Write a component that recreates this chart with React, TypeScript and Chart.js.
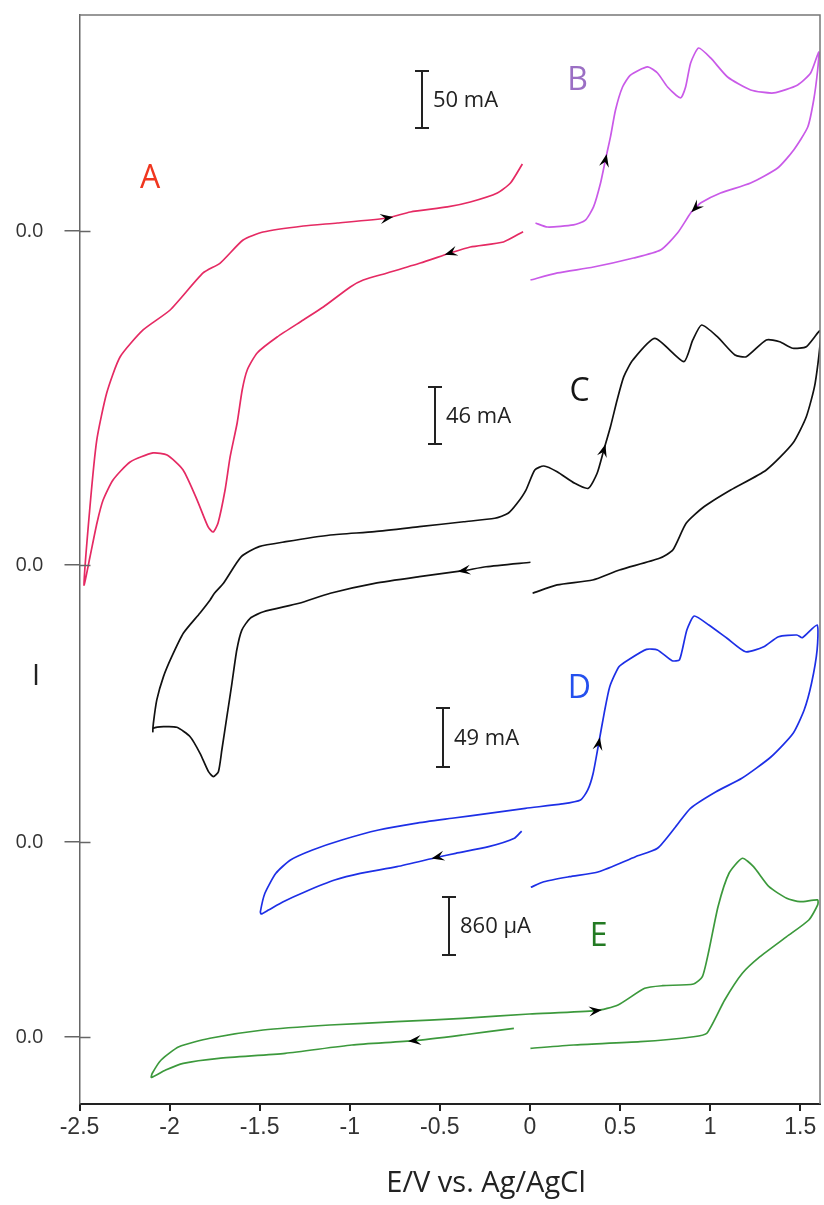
import React, { useEffect, useRef } from "react";
import { Chart, registerables } from "chart.js";

Chart.register(...registerables);

// ---------- data (E in V vs Ag/AgCl, current in mA, E-trace in µA) ----------
const A_E = [-0.038, -0.147, -0.331, -0.442, -0.608, -0.792, -0.925, -0.997, -1.147, -1.258, -1.403, -1.514, -1.569, -1.597, -1.625, -1.664, -1.692, -1.731, -1.758, -1.786, -1.847, -1.925, -2.014, -2.092, -2.219, -2.314, -2.369, -2.403, -2.442, -2.475,
  -2.442, -2.404, -2.349, -2.275, -2.147, -1.997, -1.814, -1.719, -1.592, -1.481, -1.258, -1.069, -0.792, -0.664, -0.458, -0.331, -0.181, -0.108, -0.042];
const A_I = [-0.6, -9.6, -14.0, -19.3, -28.1, -36.8, -43.0, -49.1, -66.7, -78.1, -93.0, -107.0, -121.9, -139.5, -168.4, -198.2, -227.2, -256.1, -264.0, -259.6, -236.0, -209.6, -196.5, -194.7, -202.6, -218.4, -236.0, -256.1, -286.0, -310.5,
  -242.1, -183.3, -142.1, -110.5, -86.8, -69.3, -36.8, -28.1, -7.9, -0.9, 4.4, 7.0, 11.4, 16.7, 21.1, 25.4, 33.3, 42.1, 58.8];

const B_E = [0.031, 0.097, 0.242, 0.308, 0.353, 0.392, 0.419, 0.447, 0.475, 0.514, 0.558, 0.653, 0.708, 0.764, 0.836, 0.864, 0.892, 0.936, 1.003, 1.097, 1.225, 1.353, 1.486, 1.558, 1.603,
  1.597, 1.575, 1.542, 1.464, 1.375, 1.225, 1.058, 0.947, 0.919, 0.892, 0.819, 0.725, 0.575, 0.353, 0.153, 0.003];
const B_I = [7.0, 3.5, 5.3, 9.6, 21.1, 42.1, 62.3, 82.5, 106.1, 126.3, 136.8, 143.9, 138.6, 126.3, 116.7, 126.3, 147.4, 160.5, 151.8, 135.1, 123.7, 121.1, 128.1, 138.6, 157.0,
  141.2, 114.9, 91.2, 71.1, 55.3, 42.1, 33.3, 24.6, 20.2, 15.8, -1.8, -16.7, -23.7, -31.6, -36.8, -43.0];

const C_E = [0.003, -0.244, -0.369, -0.614, -0.862, -1.108, -1.281, -1.479, -1.553, -1.599, -1.627, -1.654, -1.682, -1.710, -1.729, -1.757, -1.784, -1.831, -1.886, -1.960, -2.034, -2.090, -2.093,
  -2.090, -2.071, -2.034, -1.988, -1.923, -1.831, -1.775, -1.751, -1.701, -1.602, -1.503, -1.355, -1.108, -0.862, -0.614, -0.368, -0.195, -0.121, -0.071, -0.022, 0.027, 0.077, 0.151, 0.249, 0.324, 0.373, 0.410, 0.447, 0.484, 0.521, 0.571, 0.694, 0.854, 0.904, 0.953, 1.040, 1.138, 1.201, 1.312, 1.386, 1.459, 1.534, 1.613,
  1.583, 1.534, 1.459, 1.312, 1.114, 0.966, 0.867, 0.793, 0.719, 0.497, 0.348, 0.151, 0.015];
const C_I = [2.2, -1.4, -4.6, -9.4, -14.8, -22.8, -30.9, -37.7, -43.0, -52.5, -68.6, -95.5, -122.4, -149.3, -166.8, -170.8, -166.8, -152.0, -138.6, -131.0, -130.5, -131.8, -134.5,
  -127.8, -108.9, -90.1, -74.0, -54.9, -38.7, -28.2, -22.8, -14.8, 6.7, 14.8, 18.8, 24.2, 26.9, 30.9, 34.9, 37.7, 41.7, 49.8, 60.5, 76.7, 79.9, 75.3, 65.9, 61.9, 74.0, 92.8, 111.6, 133.2, 152.0, 165.4, 182.9, 164.1, 181.6, 193.7, 184.3, 169.5, 168.1, 181.6, 180.2, 174.9, 176.2, 189.1,
  146.6, 119.7, 98.2, 76.7, 60.5, 47.0, 33.7, 12.1, 5.4, -4.0, -12.1, -16.1, -22.8];

const D_E = [-0.046, -0.086, -0.229, -0.412, -0.514, -0.738, -0.942, -1.084, -1.247, -1.369, -1.451, -1.492,
  -1.496, -1.471, -1.410, -1.329, -1.207, -1.044, -0.840, -0.636, -0.433, -0.229, -0.025, 0.178, 0.281, 0.321, 0.351, 0.382, 0.412, 0.443, 0.494, 0.545, 0.647, 0.708, 0.789, 0.830, 0.871, 0.912, 0.993, 1.094, 1.197, 1.298, 1.380, 1.482, 1.512, 1.594,
  1.594, 1.563, 1.522, 1.461, 1.339, 1.176, 1.033, 0.891, 0.809, 0.708, 0.586, 0.382, 0.219, 0.077, 0.005];
const D_I = [9.1, 3.1, -3.9, -9.4, -12.7, -20.5, -26.0, -31.6, -41.3, -49.6, -56.5, -59.8,
  -57.9, -42.6, -26.0, -14.9, -6.6, 1.7, 10.0, 15.5, 19.7, 23.8, 28.0, 31.6, 34.9, 43.2, 57.1, 82.0, 106.9, 129.0, 145.6, 151.2, 160.0, 159.5, 150.6, 151.2, 176.1, 187.7, 180.2, 169.2, 158.0, 162.2, 170.5, 171.9, 169.7, 180.2,
  159.5, 131.8, 109.6, 90.3, 70.8, 52.9, 41.8, 28.0, 12.7, -5.2, -12.2, -24.7, -28.8, -33.0, -37.6];

const E_E = [-0.089, -0.373, -0.643, -0.988, -1.358, -1.727, -1.924, -2.022, -2.101,
  -2.096, -2.047, -1.948, -1.776, -1.481, -1.111, -0.742, -0.373, -0.003, 0.366, 0.489, 0.637, 0.736, 0.908, 0.957, 0.994, 1.044, 1.105, 1.179, 1.241, 1.327, 1.425, 1.499, 1.597,
  1.597, 1.548, 1.425, 1.277, 1.179, 1.081, 0.982, 0.908, 0.612, 0.243, 0.003];
const E_I = [129, 30, -55, -119, -242, -316, -390, -489, -598,
  -538, -341, -144, -19, 104, 178, 227, 277, 341, 390, 475, 722, 761, 786, 894, 1290, 1932, 2428, 2650, 2526, 2229, 2057, 2006, 2032,
  1958, 1735, 1488, 1191, 945, 549, 55, 4, -70, -119, -168];

// scan-direction arrows (index of the point carrying the arrow)
const A_ARROWS = [3, 42];
const B_ARROWS = [6, 33];
const C_ARROWS = [2, 49];
const D_ARROWS = [4, 27];
const E_ARROWS = [2, 18];

// x axis ticks
const X_TICKS = [-2.5, -2, -1.5, -1, -0.5, 0, 0.5, 1, 1.5];

// stacking: zero-current offset of each trace (display units) and scale bars
const ZERO_AB = 873;
const ZERO_C = 539;
const ZERO_D = 262;
const ZERO_E = 67;
const ZERO_LINES = [ZERO_AB, ZERO_C, ZERO_D, ZERO_E];

const BAR_VALUES = [50, 46, 49, 860];
const BAR_LABELS = ["50 mA", "46 mA", "49 mA", "860 \u03bcA"];
const BAR_SPANS = [57, 57, 59, 58];
const BAR_E = [-0.599, -0.525, -0.481, -0.447];
const BAR_LOW = [976, 660, 337, 149];

const TRACE_NAMES = ["A", "B", "C", "D", "E"];
const NAME_E = [-2.108, 0.264, 0.275, 0.275, 0.382];
const NAME_Y = [925, 1023, 712, 415, 167];
const NAME_COLORS = ["#f0361f", "#9b6fc4", "#151515", "#2450ee", "#237a23"];

const SANS = '"Open Sans", "Noto Sans", sans-serif';

function drawArrow(ctx: CanvasRenderingContext2D, x: number, y: number, dx: number, dy: number) {
  const len = Math.hypot(dx, dy) || 1;
  const ux = dx / len, uy = dy / len;
  const px = -uy, py = ux;
  const L = 13, W = 5, N = 8;
  const tx = x + ux * 6, ty = y + uy * 6;
  ctx.beginPath();
  ctx.moveTo(tx, ty);
  ctx.lineTo(tx - ux * L + px * W, ty - uy * L + py * W);
  ctx.lineTo(tx - ux * N, ty - uy * N);
  ctx.lineTo(tx - ux * L - px * W, ty - uy * L - py * W);
  ctx.closePath();
  ctx.fill();
}

export default function App() {
  const ref = useRef<HTMLCanvasElement>(null);

  useEffect(() => {
    document.body.style.margin = "0";
    const traces = [
      { E: A_E, I: A_I, zero: ZERO_AB, bar: 0, color: "#e52a63", arrows: A_ARROWS },
      { E: B_E, I: B_I, zero: ZERO_AB, bar: 0, color: "#c95ae8", arrows: B_ARROWS },
      { E: C_E, I: C_I, zero: ZERO_C, bar: 1, color: "#111111", arrows: C_ARROWS },
      { E: D_E, I: D_I, zero: ZERO_D, bar: 2, color: "#1d2fe6", arrows: D_ARROWS },
      { E: E_E, I: E_I, zero: ZERO_E, bar: 3, color: "#3c993c", arrows: E_ARROWS },
    ];

    const overlay = {
      id: "overlay",
      afterDatasetsDraw(chart: any) {
        const { ctx, chartArea, scales } = chart;
        const xs = scales.x, ys = scales.y;
        ctx.save();
        // frame top/right
        ctx.strokeStyle = "#777";
        ctx.lineWidth = 1.5;
        ctx.beginPath();
        ctx.moveTo(chartArea.left, chartArea.top);
        ctx.lineTo(chartArea.right, chartArea.top);
        ctx.lineTo(chartArea.right, chartArea.bottom);
        ctx.stroke();
        // inner part of y tick marks
        ctx.strokeStyle = "#666";
        ZERO_LINES.forEach((v) => {
          const py = Math.round(ys.getPixelForValue(v)) + 0.5;
          ctx.beginPath();
          ctx.moveTo(chartArea.left, py);
          ctx.lineTo(chartArea.left + 11, py);
          ctx.stroke();
        });
        // arrows
        ctx.fillStyle = "#000";
        chart.data.datasets.forEach((ds: any, di: number) => {
          const tr = traces[di];
          tr.arrows.forEach((i: number) => {
            const p = ds.data[i], a = ds.data[i - 1], b = ds.data[i + 1];
            const x = xs.getPixelForValue(p.x), y = ys.getPixelForValue(p.y);
            const dx = xs.getPixelForValue(b.x) - xs.getPixelForValue(a.x);
            const dy = ys.getPixelForValue(b.y) - ys.getPixelForValue(a.y);
            drawArrow(ctx, x, y, dx, dy);
          });
        });
        // scale bars
        ctx.strokeStyle = "#222";
        ctx.fillStyle = "#222";
        ctx.lineWidth = 2;
        ctx.font = `22px ${SANS}`;
        ctx.textAlign = "left";
        ctx.textBaseline = "middle";
        BAR_E.forEach((e, k) => {
          const x = Math.round(xs.getPixelForValue(e));
          const y0 = ys.getPixelForValue(BAR_LOW[k]);
          const y1 = ys.getPixelForValue(BAR_LOW[k] + BAR_SPANS[k]);
          ctx.beginPath();
          ctx.moveTo(x, y0); ctx.lineTo(x, y1);
          ctx.moveTo(x - 7, y0); ctx.lineTo(x + 7, y0);
          ctx.moveTo(x - 7, y1); ctx.lineTo(x + 7, y1);
          ctx.stroke();
          ctx.fillText(BAR_LABELS[k], x + 11, (y0 + y1) / 2 + 1);
        });
        // trace names
        ctx.font = `32px ${SANS}`;
        ctx.textAlign = "center";
        TRACE_NAMES.forEach((n, k) => {
          ctx.fillStyle = NAME_COLORS[k];
          ctx.fillText(n, xs.getPixelForValue(NAME_E[k]), ys.getPixelForValue(NAME_Y[k]));
        });
        // axis titles
        ctx.fillStyle = "#222";
        ctx.font = `29px ${SANS}`;
        ctx.textBaseline = "alphabetic";
        ctx.textAlign = "center";
        ctx.fillText("E/V vs. Ag/AgCl", 486, 1192);
        ctx.fillText("I", 36, 685);
        ctx.restore();
      },
    };

    const chart = new Chart(ref.current as HTMLCanvasElement, {
      type: "scatter",
      data: {
        datasets: traces.map((t) => ({
          data: t.E.map((e, i) => ({ x: e, y: t.zero + (t.I[i] / BAR_VALUES[t.bar]) * BAR_SPANS[t.bar] })),
          showLine: true,
          borderColor: t.color,
          borderWidth: 1.7,
          pointRadius: 0,
          tension: 0.2,
          fill: false,
        })),
      },
      options: {
        responsive: false,
        animation: false,
        devicePixelRatio: 1,
        layout: { padding: { top: 15, right: 4, left: 0, bottom: 0 } },
        plugins: { legend: { display: false }, tooltip: { enabled: false } },
        scales: {
          x: {
            type: "linear",
            min: -2.5,
            max: 1.61,
            afterBuildTicks: (s: any) => { s.ticks = X_TICKS.map((v) => ({ value: v })); },
            afterFit: (s: any) => { s.height = 101; s.paddingLeft = 0; s.paddingRight = 0; },
            ticks: {
              callback: (v: any) => String(v),
              font: { family: '"Liberation Sans", Arial, sans-serif', size: 23 },
              color: "#333",
              padding: 3,
              maxRotation: 0,
              autoSkip: false,
            },
            grid: { drawOnChartArea: false, tickLength: 7, color: "#222", lineWidth: 2 },
            border: { color: "#222", width: 2 },
          },
          y: {
            type: "linear",
            min: 0,
            max: 1089,
            afterBuildTicks: (s: any) => { s.ticks = ZERO_LINES.map((v) => ({ value: v })); },
            afterFit: (s: any) => { s.width = 79.5; s.paddingTop = 0; s.paddingBottom = 0; },
            ticks: {
              callback: () => "0.0",
              font: { family: SANS, size: 20 },
              color: "#333",
              padding: 21,
            },
            grid: { drawOnChartArea: false, tickLength: 15, color: "#666", lineWidth: 1.5 },
            border: { color: "#666", width: 1.5 },
          },
        },
      },
      plugins: [overlay],
    } as any);

    return () => chart.destroy();
  }, []);

  return (
    <div style={{ position: "absolute", left: 0, top: 0, width: 824, height: 1205, background: "#fff" }}>
      <canvas ref={ref} width={824} height={1205} style={{ display: "block", width: 824, height: 1205 }} />
    </div>
  );
}
